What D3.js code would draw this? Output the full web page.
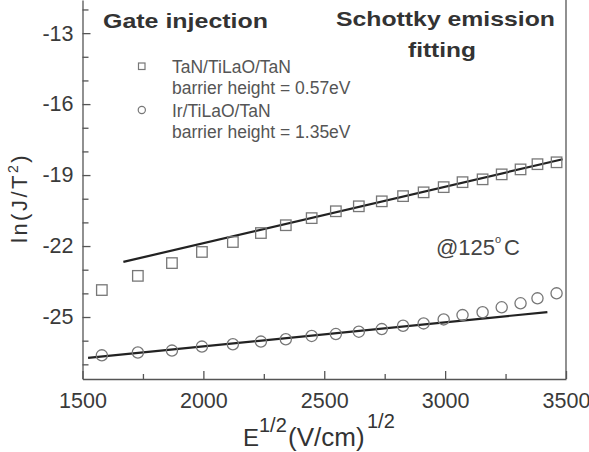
<!DOCTYPE html>
<html><head><meta charset="utf-8">
<script src="https://cdn.jsdelivr.net/npm/d3@7"></script>
<style>
html,body{margin:0;padding:0;background:#fff;}
svg{display:block;font-family:"Liberation Sans",Arial,sans-serif;}
</style></head>
<body>
<script>
// ---- data ----
const xTaN = [1580,1729,1870,1994,2122,2238,2341,2448,2548,2643,2738,2826,2911,2994,3072,3155,3234,3312,3382,3461];
const yTaN = [-23.86,-23.26,-22.72,-22.25,-21.83,-21.45,-21.12,-20.82,-20.53,-20.32,-20.11,-19.89,-19.73,-19.51,-19.30,-19.18,-18.97,-18.76,-18.54,-18.46];
const xIr = [1580,1729,1870,1994,2122,2238,2341,2448,2548,2643,2738,2826,2911,2994,3072,3155,3234,3312,3382,3461];
const yIr = [-26.62,-26.50,-26.42,-26.25,-26.15,-26.04,-25.94,-25.80,-25.72,-25.62,-25.51,-25.37,-25.27,-25.10,-24.92,-24.80,-24.59,-24.42,-24.21,-24.00];
const fitTaNx = [1669,3486];
const fitTaNy = [-22.67,-18.33];
const fitIrx = [1523,3423];
const fitIry = [-26.73,-24.79];
const xMajor = [1500,2000,2500,3000,3500];
const xMinor = [1750,2250,2750,3250];
const yMajor = [-25,-22,-19,-16,-13];
const yMinor = [-27,-26,-24,-23,-21,-20,-18,-17,-15,-14,-12];
const legendLabels = ["TaN/TiLaO/TaN","barrier height = 0.57eV","Ir/TiLaO/TaN","barrier height = 1.35eV"];

const W = 589, H = 452;
const svg = d3.select("body").append("svg").attr("width",W).attr("height",H);

const x = d3.scaleLinear().domain([1500,3500]).range([82.5,566]);
const y = d3.scaleLinear().domain([-27.62,-11.6]).range([379,0]);

const axisColor = "#555", textColor = "#3a3a3a";
const fmt = d => String(d);

// axes
const gx = svg.append("g").attr("transform",`translate(0,${y.range()[0]})`);
gx.call(d3.axisBottom(x).tickValues(xMajor).tickSizeInner(-8).tickSizeOuter(0).tickPadding(14).tickFormat(fmt));
const gxm = svg.append("g").attr("transform",`translate(0,${y.range()[0]})`);
gxm.call(d3.axisBottom(x).tickValues(xMinor).tickSizeInner(-5).tickSizeOuter(0).tickFormat(""));
gxm.select(".domain").remove();

const gy = svg.append("g").attr("transform",`translate(${x.range()[0]},0)`);
gy.call(d3.axisLeft(y).tickValues(yMajor).tickSizeInner(-8).tickSizeOuter(0).tickPadding(9).tickFormat(fmt));
const gym = svg.append("g").attr("transform",`translate(${x.range()[0]},0)`);
gym.call(d3.axisLeft(y).tickValues(yMinor).tickSizeInner(-6).tickSizeOuter(0).tickFormat(""));
gym.select(".domain").remove();

svg.selectAll(".domain, .tick line").attr("stroke",axisColor).attr("stroke-width",1.3);
svg.selectAll(".tick text").attr("fill",textColor).style("font-size","21.5px").style("font-family","'Liberation Sans',Arial,sans-serif");

// right border
svg.append("line").attr("x1",x(3500)).attr("x2",x(3500)).attr("y1",y.range()[0]).attr("y2",y.range()[1])
  .attr("stroke",axisColor).attr("stroke-width",1.3);

// fit lines
const line = d3.line().x(d=>x(d[0])).y(d=>y(d[1]));
svg.append("path").attr("d",line(d3.zip(fitTaNx,fitTaNy))).attr("stroke","#222").attr("stroke-width",2.2).attr("fill","none");
svg.append("path").attr("d",line(d3.zip(fitIrx,fitIry))).attr("stroke","#222").attr("stroke-width",2.2).attr("fill","none");

// markers
const markerColor = "#777";
const sq = 10.5;
svg.append("g").selectAll("rect").data(d3.zip(xTaN,yTaN)).join("rect")
  .attr("x",d=>x(d[0])-sq/2).attr("y",d=>y(d[1])-sq/2).attr("width",sq).attr("height",sq)
  .attr("fill","none").attr("stroke",markerColor).attr("stroke-width",1.3);
svg.append("g").selectAll("circle").data(d3.zip(xIr,yIr)).join("circle")
  .attr("cx",d=>x(d[0])).attr("cy",d=>y(d[1])).attr("r",5.6)
  .attr("fill","none").attr("stroke",markerColor).attr("stroke-width",1.3);

// legend
svg.append("rect").attr("x",138.5).attr("y",63).attr("width",6.5).attr("height",6.5)
  .attr("fill","none").attr("stroke",markerColor).attr("stroke-width",1.2);
svg.append("circle").attr("cx",141.8).attr("cy",110).attr("r",3.6)
  .attr("fill","none").attr("stroke",markerColor).attr("stroke-width",1.2);
const legY = [73,94,116.5,137.5];
svg.append("g").selectAll("text").data(legendLabels).join("text")
  .attr("x",172).attr("y",(d,i)=>legY[i]).text(d=>d)
  .attr("fill","#555").style("font-size","17.5px");

// bold annotations
svg.append("text").attr("x",103).attr("y",28).text("Gate injection")
  .attr("fill","#333").style("font-size","21px").style("font-weight","bold")
  .attr("textLength",165).attr("lengthAdjust","spacingAndGlyphs");
svg.append("text").attr("x",336).attr("y",26).text("Schottky emission")
  .attr("fill","#333").style("font-size","21px").style("font-weight","bold")
  .attr("textLength",219).attr("lengthAdjust","spacingAndGlyphs");
svg.append("text").attr("x",408).attr("y",57).text("fitting")
  .attr("fill","#333").style("font-size","21px").style("font-weight","bold")
  .attr("textLength",68).attr("lengthAdjust","spacingAndGlyphs");

// temperature
const t = svg.append("text").attr("fill","#444").style("font-size","22px");
t.append("tspan").attr("x",436).attr("y",255).text("@125");
t.append("tspan").attr("x",495).attr("y",243).style("font-size","11px").text("o");
t.append("tspan").attr("x",504).attr("y",255).text("C");

// x label
const xl = svg.append("text").attr("fill","#333").style("font-size","24px");
xl.append("tspan").attr("x",243).attr("y",446).text("E");
xl.append("tspan").attr("x",259).attr("y",432).style("font-size","20px").text("1/2");
xl.append("tspan").attr("x",288).attr("y",446).style("font-size","26px").text("(V/cm)");
xl.append("tspan").attr("x",367).attr("y",428).style("font-size","20px").text("1/2");

// y label
const yl = svg.append("text").attr("transform","translate(27,243) rotate(-90)")
  .attr("fill","#333").style("font-size","22px").style("letter-spacing","2.5px");
yl.append("tspan").text("ln(J/T");
yl.append("tspan").attr("dy",-9).style("font-size","14px").text("2");
yl.append("tspan").attr("dy",9).text(")");
</script>
</body></html>
